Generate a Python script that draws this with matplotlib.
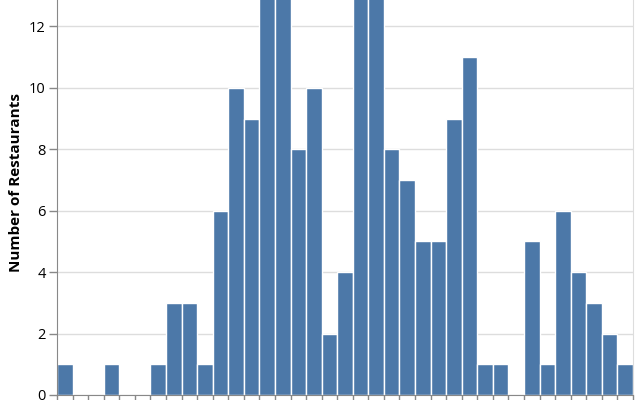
import matplotlib
matplotlib.use("Agg")
import matplotlib.pyplot as plt
import numpy as np

# bin counts, left to right (the four tallest bars run off the top of the view)
counts = [1, 0, 0, 1, 0, 0, 1, 3, 3, 1, 6, 10, 9, 15, 14, 8, 10, 2, 4, 14, 16,
          8, 7, 5, 5, 9, 11, 1, 1, 0, 5, 1, 6, 4, 3, 2, 1]
y_ticks = [0, 2, 4, 6, 8, 10, 12]
y_label = "Number of Restaurants"

plt.rcParams["font.family"] = ["Open Sans", "DejaVu Sans"]

fig = plt.figure(figsize=(6.4, 4.0), dpi=100)
ax = fig.add_axes([57 / 640, 5 / 400, (633 - 57) / 640, 395 / 400])

edges = np.arange(len(counts) + 1)
ax.bar(edges[:-1], counts, width=1, align="edge", color="#4c78a8",
       edgecolor="white", linewidth=1.0, zorder=2)

ax.set_xlim(0, len(counts))
ax.set_ylim(0, 12.86)
ax.set_yticks(y_ticks)
ax.set_yticklabels([str(t) for t in y_ticks])
ax.set_xticks(edges)
ax.set_xticklabels([])
ax.grid(axis="y", color="#dddddd", linewidth=1, zorder=0)
ax.tick_params(axis="y", length=6, width=1, color="#888888", labelsize=10.5,
               labelcolor="#000000", pad=2)
ax.tick_params(axis="x", length=5, width=1, color="#888888")

ax.spines["top"].set_visible(False)
ax.spines["left"].set_color("#888888")
ax.spines["bottom"].set_color("#888888")
ax.spines["right"].set_color("#dddddd")

fig.text(16 / 640, 1 - 183 / 400, y_label, rotation=90, ha="center",
         va="center", fontsize=11, fontweight="bold")

fig.savefig("out.png", dpi=100)
